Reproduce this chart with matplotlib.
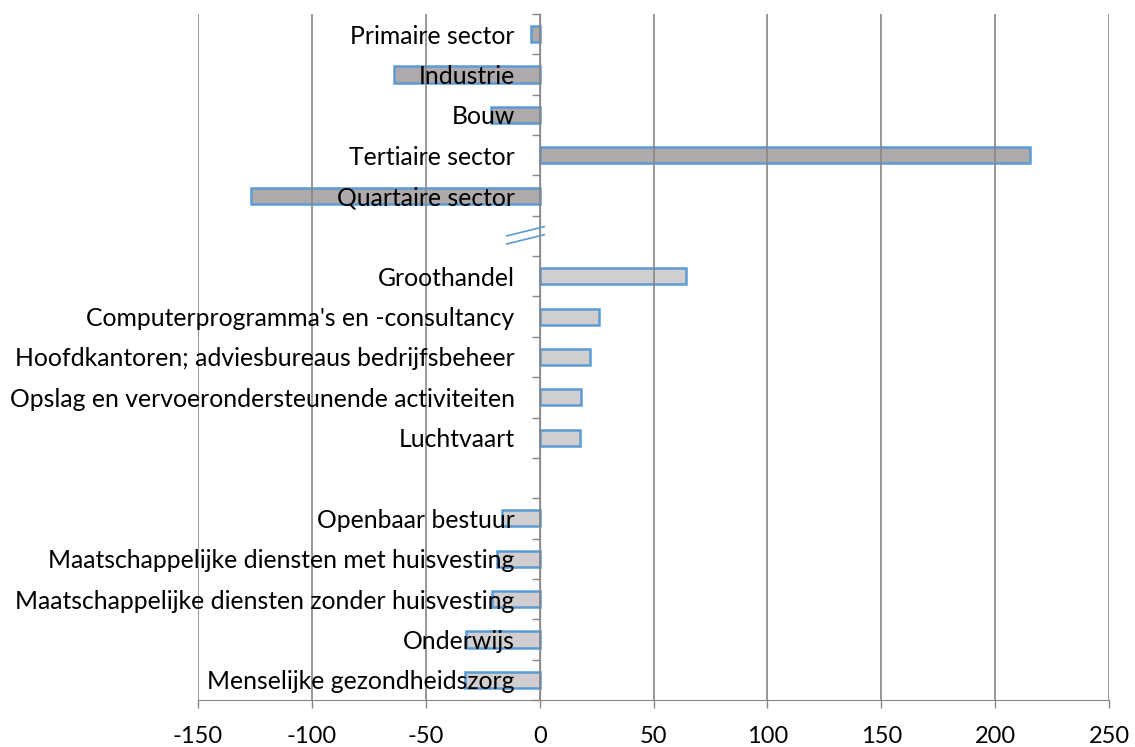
import numpy as np
import matplotlib
matplotlib.use("Agg")
import matplotlib.pyplot as plt
from matplotlib.lines import Line2D

categories = ["Primaire sector", "Industrie", "Bouw", "Tertiaire sector", "Quartaire sector",
              "",
              "Groothandel", "Computerprogramma's en -consultancy",
              "Hoofdkantoren; adviesbureaus bedrijfsbeheer",
              "Opslag en vervoerondersteunende activiteiten", "Luchtvaart",
              "",
              "Openbaar bestuur", "Maatschappelijke diensten met huisvesting",
              "Maatschappelijke diensten zonder huisvesting", "Onderwijs",
              "Menselijke gezondheidszorg"]
values = [-4, -64, -21.5, 215.3, -126.8,
          np.nan,
          64.2, 26.1, 22.1, 18.2, 17.8,
          np.nan,
          -16.6, -18.8, -21, -32.5, -32.8]
groups = ["sector"] * 5 + [""] + ["branche"] * 5 + [""] + ["branche"] * 5
xticks = [-150, -100, -50, 0, 50, 100, 150, 200, 250]

fill_colors = {"sector": "#AEAAAA", "branche": "#D0CECE"}
edge_color = "#5B9BD5"
grid_color = "#868686"

plt.rcParams['font.family'] = ['Lato', 'DejaVu Sans']

fig = plt.figure(figsize=(11.35, 7.47), dpi=100)
ax = fig.add_axes([198 / 1135, (747 - 700) / 747, (1109 - 198) / 1135, (700 - 14) / 747])

ypos = np.arange(len(categories))
for y, v, g in zip(ypos, values, groups):
    if np.isnan(v):
        continue
    ax.barh(y, v, height=0.4, color=fill_colors[g], edgecolor=edge_color,
            linewidth=1.8, zorder=1)

ax.set_xlim(xticks[0], xticks[-1])
ax.set_ylim(len(categories) - 0.5, -0.5)
ax.set_xticks(xticks)
ax.set_xticklabels([str(t) for t in xticks], fontsize=17)
ax.tick_params(axis='x', direction='out', length=6, width=1, color=grid_color, pad=13)
ax.xaxis.grid(True, color=grid_color, linewidth=1.2)
ax.set_axisbelow('line')

ax.spines['left'].set_position(('data', 0))
ax.spines['left'].set_color(grid_color)
ax.spines['bottom'].set_color(grid_color)
ax.spines['top'].set_visible(False)
ax.spines['right'].set_visible(False)

ax.set_yticks(np.arange(len(categories) + 1) - 0.5)
ax.set_yticklabels([])
ax.tick_params(axis='y', which='major', direction='out', length=6, width=1, color=grid_color)
ax.set_yticks(ypos, minor=True)
ax.set_yticklabels(categories, minor=True, fontsize=17.8)
ax.tick_params(axis='y', which='minor', length=0, pad=18)
for lbl in ax.get_yticklabels(minor=True):
    lbl.set_va('center_baseline')

# axis-break marks on the category axis
brk = 5
for dy in (0.0, 0.2):
    ax.add_line(Line2D([-14.5, 2], [brk + 0.0 + dy, brk - 0.23 + dy], color=edge_color,
                       linewidth=1.2, clip_on=False, zorder=3))

fig.savefig("out.png", dpi=100)
